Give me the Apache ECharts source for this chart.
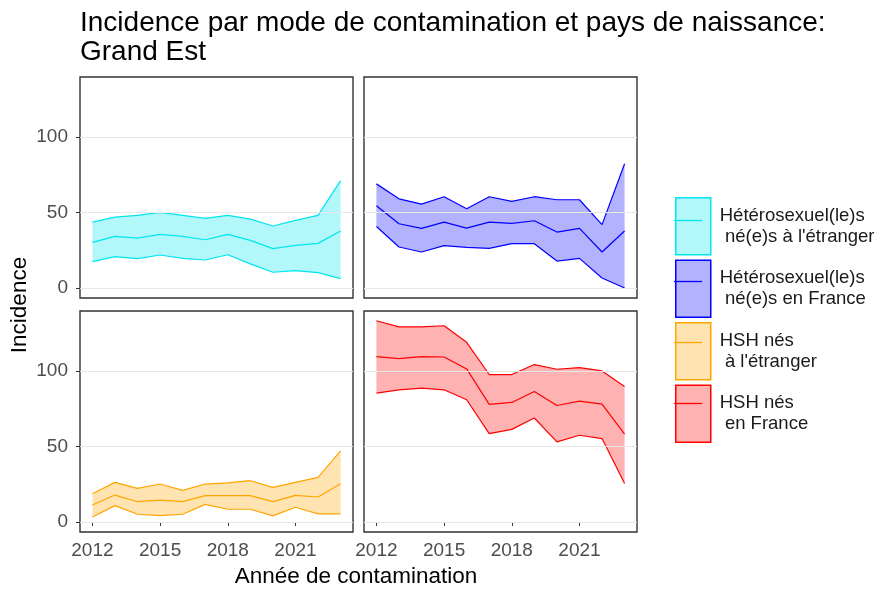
<!DOCTYPE html>
<html>
<head>
<meta charset="utf-8">
<title>Incidence par mode de contamination et pays de naissance: Grand Est</title>
<script src="https://cdn.jsdelivr.net/npm/echarts@6/dist/echarts.min.js"></script>
<style>
  html, body { margin: 0; padding: 0; background: #fff; }
  #chart { width: 883px; height: 592px; }
</style>
</head>
<body>
<div id="chart"></div>
<script>
// années de contamination
var years = [2012, 2013, 2014, 2015, 2016, 2017, 2018, 2019, 2020, 2021, 2022, 2023];
var xTicks = [2012, 2015, 2018, 2021];
var yTicks = [0, 50, 100];

// Hétérosexuel(le)s né(e)s à l'étranger
var heteroEtrLow = [17.4, 20.7, 19.4, 21.8, 19.6, 18.5, 22.0, 15.9, 10.4, 11.5, 10.1, 6.2];
var heteroEtrMid = [30.2, 34.1, 33.0, 35.5, 34.1, 31.9, 35.5, 31.5, 26.0, 28.2, 29.5, 37.7];
var heteroEtrHigh = [43.6, 46.9, 48.0, 50.0, 48.0, 46.0, 48.0, 45.6, 41.0, 44.7, 48.0, 71.1];

// Hétérosexuel(le)s né(e)s en France
var heteroFrLow = [40.7, 27.1, 23.8, 28.0, 26.9, 26.2, 29.3, 29.3, 17.8, 19.6, 6.6, 0.0];
var heteroFrMid = [54.4, 42.5, 39.4, 43.6, 39.6, 43.6, 42.7, 44.5, 37.0, 39.4, 23.8, 37.7];
var heteroFrHigh = [68.9, 59.0, 55.5, 60.4, 52.4, 60.4, 57.3, 60.4, 58.4, 58.4, 41.9, 82.2];

// HSH nés à l'étranger
var hshEtrLow = [3.3, 10.8, 5.1, 4.2, 5.1, 11.6, 8.4, 8.4, 4.0, 9.7, 5.3, 5.3];
var hshEtrMid = [11.2, 17.8, 13.4, 14.5, 13.4, 17.4, 17.4, 17.4, 13.4, 17.6, 16.5, 25.3];
var hshEtrHigh = [18.7, 26.2, 22.2, 25.1, 20.9, 25.1, 25.9, 27.3, 22.9, 26.2, 29.5, 47.0];

// HSH nés en France
var hshFrLow = [85.3, 87.5, 88.6, 87.5, 80.9, 58.5, 61.3, 68.8, 53.0, 57.4, 55.2, 25.5];
var hshFrMid = [109.5, 108.1, 109.5, 109.2, 101.3, 77.8, 79.1, 86.4, 77.1, 80.0, 78.0, 58.2];
var hshFrHigh = [133.2, 129.2, 129.2, 129.9, 118.9, 97.6, 97.6, 104.2, 101.1, 102.2, 100.0, 89.7];

var groups = [
  { name: "Hétérosexuel(le)s\n né(e)s à l'étranger", line: '#00e5ee', fill: 'rgba(0,229,238,0.3)',
    low: heteroEtrLow, mid: heteroEtrMid, high: heteroEtrHigh },
  { name: 'Hétérosexuel(le)s\n né(e)s en France', line: '#0000ff', fill: 'rgba(0,0,255,0.3)',
    low: heteroFrLow, mid: heteroFrMid, high: heteroFrHigh },
  { name: 'HSH nés\n à l\'étranger', line: '#ffa500', fill: 'rgba(255,165,0,0.3)',
    low: hshEtrLow, mid: hshEtrMid, high: hshEtrHigh },
  { name: 'HSH nés\n en France', line: '#ff0000', fill: 'rgba(255,0,0,0.3)',
    low: hshFrLow, mid: hshFrMid, high: hshFrHigh }
];

var font = 'Liberation Sans, Arial, sans-serif';
var panelLeft = [80, 364, 80, 364];
var panelTop = [77, 77, 311, 311];

function pairs(vals) {
  var out = [];
  for (var i = 0; i < years.length; i++) out.push([years[i], vals[i]]);
  return out;
}
// valeur en premier pour que l'empilement se fasse sur y (axe x de type value)
function pairsYX(vals) {
  var out = [];
  for (var i = 0; i < years.length; i++) out.push([vals[i], years[i]]);
  return out;
}

var grid = [], xAxis = [], yAxis = [], series = [];
for (var g = 0; g < 4; g++) {
  var grp = groups[g];
  var isLeft = g % 2 === 0;
  var isBottom = g >= 2;
  grid.push({
    left: panelLeft[g], top: panelTop[g], width: 273, height: 221,
    show: true, borderColor: '#333', borderWidth: 1.4, backgroundColor: 'transparent'
  });
  xAxis.push({
    gridIndex: g, type: 'value', min: 2011.45, max: 2023.55,
    axisLine: { show: false },
    splitLine: { show: false },
    axisTick: { show: isBottom, inside: false, length: 4, lineStyle: { color: '#333' }, customValues: xTicks },
    axisLabel: {
      show: isBottom, color: '#4d4d4d', fontSize: 19, fontFamily: font, margin: 9, customValues: xTicks,
      formatter: function (v) { return String(v); }
    }
  });
  yAxis.push({
    gridIndex: g, type: 'value', min: -6.66, max: 139.66,
    axisLine: { show: false },
    splitLine: { show: false },
    axisTick: { show: isLeft, inside: false, length: 4, lineStyle: { color: '#333' }, customValues: yTicks },
    axisLabel: { show: isLeft, color: '#4d4d4d', fontSize: 19, fontFamily: font, margin: 12, customValues: yTicks }
  });

  var diff = [];
  for (var i = 0; i < years.length; i++) diff.push(grp.high[i] - grp.low[i]);

  // base invisible du ruban + lignes de grille
  series.push({
    name: 'base' + g, type: 'line', xAxisIndex: g, yAxisIndex: g,
    data: pairsYX(grp.low), encode: { x: 1, y: 0 },
    stack: 'ribbon' + g, symbol: 'none', silent: true,
    lineStyle: { opacity: 0 }, z: 1,
    markLine: {
      silent: true, symbol: 'none', label: { show: false },
      lineStyle: { color: '#e8e8e8', type: 'solid', width: 1 },
      data: yTicks.map(function (v) { return { yAxis: v }; })
    }
  });
  // ruban
  series.push({
    name: grp.name, type: 'line', xAxisIndex: g, yAxisIndex: g,
    data: pairsYX(diff), encode: { x: 1, y: 0 },
    stack: 'ribbon' + g, symbol: 'none', silent: true,
    lineStyle: { opacity: 0 }, itemStyle: { color: grp.fill },
    areaStyle: { color: grp.fill, opacity: 1 }, z: 2
  });
  [grp.low, grp.high, grp.mid].forEach(function (vals) {
    series.push({
      name: grp.name, type: 'line', xAxisIndex: g, yAxisIndex: g,
      data: pairs(vals), symbol: 'none', silent: true,
      lineStyle: { color: grp.line, width: 1.2 }, itemStyle: { color: grp.line }, z: 3
    });
  });
}

var legendTop = 192, legendItemH = 57, legendGap = 4;
var legendLines = groups.map(function (grp, k) {
  var cy = legendTop + k * (legendItemH + legendGap) + legendItemH / 2;
  return {
    type: 'line', z: 100, silent: true,
    shape: { x1: 674, y1: cy, x2: 702, y2: cy },
    style: { stroke: grp.line, lineWidth: 1.3 }
  };
});

var chart = echarts.init(document.getElementById('chart'), null, { renderer: 'canvas' });
chart.setOption({
  animation: false,
  backgroundColor: '#fff',
  title: {
    text: 'Incidence par mode de contamination et pays de naissance:\nGrand Est',
    left: 75, top: 4,
    textStyle: { fontSize: 28, fontWeight: 'normal', color: '#000', fontFamily: font, lineHeight: 29 }
  },
  legend: {
    orient: 'vertical', left: 670, top: legendTop,
    itemWidth: 35, itemHeight: legendItemH, itemGap: legendGap,
    selectedMode: false,
    textStyle: { fontSize: 18.5, color: '#1a1a1a', fontFamily: font, lineHeight: 21, padding: [0, 0, 0, 4] },
    data: groups.map(function (grp) {
      return { name: grp.name, icon: 'rect', itemStyle: { color: grp.fill, borderColor: grp.line, borderWidth: 1.5 } };
    })
  },
  grid: grid,
  xAxis: xAxis,
  yAxis: yAxis,
  series: series,
  graphic: legendLines.concat([
    {
      type: 'text', x: 356, y: 577, silent: true,
      style: { text: 'Année de contamination', fill: '#000', font: '22.5px ' + font, align: 'center', verticalAlign: 'middle' }
    },
    {
      type: 'text', x: 20, y: 305, rotation: Math.PI / 2, silent: true,
      style: { text: 'Incidence', fill: '#000', font: '22.5px ' + font, align: 'center', verticalAlign: 'middle' }
    }
  ])
});
</script>
</body>
</html>
